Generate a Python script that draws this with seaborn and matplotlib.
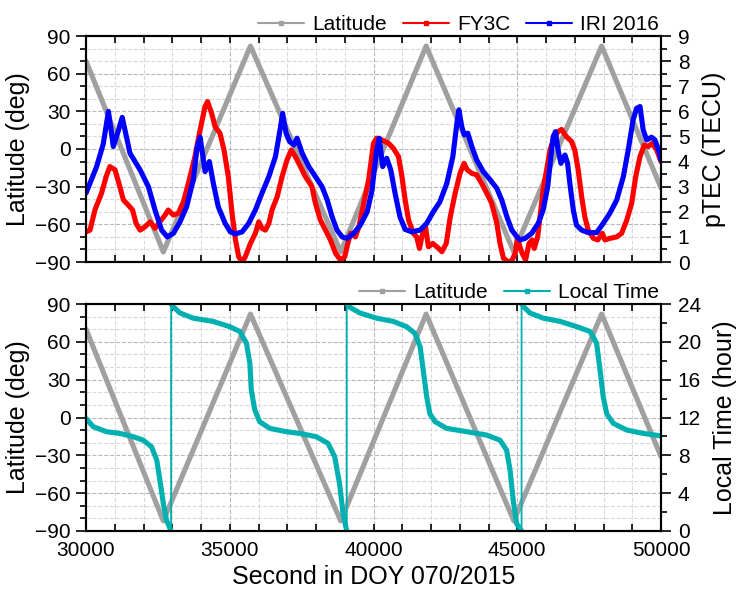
import numpy as np
import pandas as pd
import matplotlib
matplotlib.use('Agg')
import matplotlib.pyplot as plt
import seaborn as sns
from matplotlib.lines import Line2D
from matplotlib.ticker import MultipleLocator

# Latitude track (turning points of the orbit)
lat_t = [30000, 32690, 35720, 38860, 41830, 44880, 47935, 50000]
lat_v = [70, -82, 82, -82, 82, -82, 82, -31]

# FY3C plasmaspheric TEC
fy_t = [30000, 30140, 30310, 30540, 30700, 30830, 31010, 31160, 31300, 31470, 31620, 31740,
        31880, 32050, 32230, 32400, 32570, 32750, 32860, 33040, 33210, 33390, 33560, 33790,
        33970, 34140, 34230, 34370, 34490, 34660, 34800, 34950, 35080, 35200, 35310, 35430,
        35540, 35720, 35890, 36010, 36120, 36240, 36360, 36470, 36650, 36820, 36990, 37140,
        37280, 37460, 37630, 37860, 37980, 38150, 38330, 38500, 38680, 38850, 39000, 39080,
        39200, 39370, 39490, 39660, 39830, 40000, 40110, 40290, 40520, 40690, 40870, 40990,
        41100, 41220, 41390, 41500, 41600, 41680, 41800, 41910, 42060, 42200, 42380, 42530,
        42670, 42840, 43010, 43150, 43260, 43420, 43590, 43760, 43940, 44110, 44290, 44400,
        44520, 44690, 44810, 44930, 45010, 45090, 45170, 45290, 45410, 45520, 45590, 45710,
        45790, 45900, 46020, 46140, 46290, 46420, 46540, 46710, 46890, 47000, 47120, 47240,
        47350, 47470, 47650, 47800, 47960, 48050, 48220, 48460, 48630, 48810, 48980, 49120,
        49270, 49420, 49560, 49700, 49850, 50000]
fy_v = [1.2, 1.27, 2.07, 2.74, 3.4, 3.8, 3.67, 3.07, 2.47, 2.27, 2.07, 1.54,
        1.27, 1.4, 1.6, 1.34, 1.6, 1.87, 2.07, 1.87, 1.94, 2.4, 3.13, 4.2,
        5.26, 6.19, 6.39, 5.92, 5.39, 5.13, 4.46, 3.4, 1.94, 0.88, 0.21, 0.0,
        0.21, 0.74, 1.14, 1.6, 1.34, 1.27, 1.54, 2.07, 2.6, 3.4, 4.06, 4.46,
        4.2, 3.8, 3.4, 3.0, 2.34, 1.67, 1.27, 0.88, 0.35, 0.08, 0.21, 0.61,
        1.14, 1.0, 1.4, 2.34, 3.27, 4.73, 4.93, 4.86, 4.73, 4.53, 4.2, 3.4,
        2.47, 1.67, 1.14, 1.0, 0.54, 1.0, 1.47, 0.61, 0.74, 0.61, 0.41, 0.74,
        1.8, 2.74, 3.53, 3.93, 3.67, 3.53, 3.47, 3.13, 2.74, 2.34, 1.54, 0.74,
        0.15, 0.01, 0.05, 0.35, 1.0, 0.61, 0.35, 0.08, 0.74, 0.88, 0.54, 1.0,
        1.8, 2.87, 3.67, 4.46, 4.99, 5.19, 5.28, 4.99, 4.8, 4.46, 3.67, 2.6,
        1.8, 1.27, 0.94, 0.88, 1.14, 0.88, 0.94, 1.0, 1.14, 1.67, 2.34, 3.4,
        4.2, 4.66, 4.6, 4.73, 4.46, 4.0]

# IRI 2016 modelled TEC
iri_t = [30000, 30370, 30600, 30780, 30950, 31090, 31260, 31530, 31880, 32170, 32400, 32630,
         32830, 33040, 33270, 33500, 33730, 33870, 33970, 34140, 34290, 34430, 34600, 34840,
         35020, 35200, 35430, 35660, 35890, 36120, 36360, 36590, 36730, 36840, 36960, 37080,
         37230, 37340, 37520, 37750, 37980, 38210, 38390, 38560, 38730, 38910, 39080, 39310,
         39540, 39780, 39950, 40000, 40110, 40200, 40320, 40460, 40600, 40750, 40920, 41100,
         41330, 41620, 41850, 42080, 42310, 42550, 42760, 42900, 42970, 43070, 43160, 43280,
         43420, 43590, 43820, 44060, 44290, 44460, 44640, 44810, 44990, 45090, 45270, 45500,
         45730, 45900, 46060, 46170, 46250, 46330, 46420, 46520, 46660, 46750, 46830, 46950,
         47060, 47240, 47470, 47760, 47990, 48220, 48460, 48690, 48860, 49030, 49150, 49270,
         49380, 49500, 49670, 49790, 49930, 50000]
iri_v = [2.74, 3.8, 4.7, 6.0, 4.6, 5.1, 5.76, 4.33, 3.67, 3.0, 2.07, 1.27,
         1.0, 1.14, 1.6, 2.2, 3.27, 4.6, 4.97, 3.6, 4.0, 3.13, 2.2, 1.54,
         1.2, 1.12, 1.2, 1.54, 2.07, 2.74, 3.4, 4.2, 5.13, 5.92, 5.13, 4.8,
         4.66, 4.93, 4.33, 3.8, 3.4, 3.0, 2.47, 1.8, 1.27, 1.0, 0.94, 1.14,
         1.47, 2.0, 2.87, 3.4, 4.46, 4.93, 3.8, 4.13, 3.67, 2.74, 1.8, 1.3,
         1.2, 1.27, 1.54, 2.0, 2.4, 3.13, 4.2, 5.52, 6.06, 5.39, 5.06, 5.13,
         4.6, 4.06, 3.6, 3.27, 2.93, 2.47, 1.8, 1.27, 1.0, 0.88, 0.94, 1.14,
         1.54, 2.07, 3.0, 4.2, 4.99, 5.19, 4.46, 3.93, 4.26, 3.93, 3.13, 2.07,
         1.47, 1.27, 1.17, 1.17, 1.54, 1.94, 2.47, 3.4, 4.46, 5.66, 6.12, 6.19,
         5.26, 4.86, 4.97, 4.86, 4.4, 4.06]

# Local time along the track (jumps 0 -> 24 h)
lt_t = [30000, 30250, 30710, 31170, 31640, 31990, 32280, 32460, 32570, 32690, 32800, 32960,
        32960, 33020, 33270, 33730, 34420, 35000, 35350, 35580, 35700, 35750, 35870, 36040,
        36390, 36970, 37430, 38010, 38420, 38650, 38820, 38940, 39070,
        39070, 39150, 39530, 40110, 40690, 41150, 41440, 41620, 41730, 41850, 41960, 42140,
        42540, 43240, 43940, 44400, 44630, 44750, 44860, 44980, 45150,
        45150, 45210, 45440, 45910, 46490, 47070, 47530, 47760, 47880, 47990, 48110, 48340,
        48810, 49380, 49960, 50000]
lt_v = [11.9, 11.03, 10.5, 10.32, 9.97, 9.61, 8.9, 7.5, 5.37, 2.9, 1.13, 0.0,
        24.0, 23.75, 23.05, 22.5, 22.16, 21.6, 21.1, 19.86, 17.7, 14.9, 12.8, 11.56,
        10.85, 10.5, 10.32, 9.97, 9.26, 7.85, 5.0, 1.84, 0.0,
        24.0, 23.7, 23.05, 22.5, 22.16, 21.6, 20.9, 19.5, 17.0, 14.2, 12.4, 11.56,
        10.85, 10.5, 10.14, 9.6, 8.55, 6.43, 3.25, 0.78, 0.0,
        24.0, 23.75, 23.05, 22.5, 22.16, 21.6, 21.1, 19.86, 17.0, 14.2, 12.4, 11.38,
        10.67, 10.32, 10.07, 10.05]

GREY = '#a0a0a0'
RED = '#ff0000'
BLUE = '#0000ff'
CYAN = '#00b0b0'
LW = 3.7

sns.set_theme(style='ticks')
plt.rcParams['font.family'] = ['Liberation Sans', 'DejaVu Sans']
for k in ['axes.edgecolor', 'xtick.color', 'ytick.color', 'axes.labelcolor', 'text.color']:
    plt.rcParams[k] = 'black'

fig = plt.figure(figsize=(7.37, 5.91), dpi=100)
ax1 = fig.add_axes([86 / 737, 1 - 262 / 591, 575 / 737, 226 / 591])
ax3 = fig.add_axes([86 / 737, 1 - 531 / 591, 575 / 737, 227 / 591])
ax2 = ax1.twinx()
ax4 = ax3.twinx()


def style_axes(ax, axr, rmax, rmajor, rminor):
    ax.set_xlim(30000, 50000)
    ax.set_ylim(-90, 90)
    ax.xaxis.set_major_locator(MultipleLocator(5000))
    ax.xaxis.set_minor_locator(MultipleLocator(1000))
    ax.yaxis.set_major_locator(MultipleLocator(30))
    ax.yaxis.set_minor_locator(MultipleLocator(10))
    ax.grid(which='major', ls='--', color='#b8b8b8', lw=0.8)
    ax.grid(which='minor', ls='--', color='#d9d9d9', lw=0.8)
    ax.set_axisbelow(True)
    ax.tick_params(axis='x', which='both', direction='in', top=True, bottom=True,
                   length=5, width=1.2, labelsize=15, pad=7.5)
    ax.tick_params(axis='y', which='major', direction='out', length=7.5, width=1.2, labelsize=15)
    ax.tick_params(axis='y', which='minor', direction='out', length=4.5, width=1.2)
    axr.set_ylim(0, rmax)
    axr.yaxis.set_major_locator(MultipleLocator(rmajor))
    axr.yaxis.set_minor_locator(MultipleLocator(rminor))
    axr.tick_params(axis='y', which='major', direction='out', length=7.5, width=1.2,
                    labelsize=15, pad=4.5)
    axr.tick_params(axis='y', which='minor', direction='out', length=4.5, width=1.2)
    axr.grid(False)
    for a in (ax, axr):
        for s in a.spines.values():
            s.set_linewidth(1.5)
    ax.set_ylabel('Latitude (deg)', fontsize=18, labelpad=4)


# top panel
sns.lineplot(x=lat_t, y=lat_v, ax=ax1, color=GREY, lw=LW, sort=False, estimator=None)
sns.lineplot(x=fy_t, y=fy_v, ax=ax2, color=RED, lw=LW, sort=False, estimator=None)
sns.lineplot(x=iri_t, y=iri_v, ax=ax2, color=BLUE, lw=LW, sort=False, estimator=None)
style_axes(ax1, ax2, 9, 1, 0.5)
ax1.tick_params(labelbottom=False)
ax2.set_ylabel('pTEC (TECU)', fontsize=18, labelpad=9)

# bottom panel
lt = pd.DataFrame({'t': lt_t, 'lt': lt_v})
lt['seg'] = (lt['lt'].diff() > 12).cumsum()
sns.lineplot(x=lat_t, y=lat_v, ax=ax3, color=GREY, lw=LW, sort=False, estimator=None)
sns.lineplot(data=lt, x='t', y='lt', ax=ax4, color=CYAN, lw=1.3, sort=False, estimator=None)
sns.lineplot(data=lt, x='t', y='lt', units='seg', ax=ax4, color=CYAN, lw=LW,
             sort=False, estimator=None)
style_axes(ax3, ax4, 24, 4, 2)
ax4.set_ylabel('Local Time (hour)', fontsize=18, labelpad=9)
ax3.set_xlabel('Second in DOY 070/2015', fontsize=18, labelpad=3)
for a in (ax1, ax2, ax3, ax4):
    a.set_xlim(30000, 50000)
ax2.set_xlabel('')
ax4.set_xlabel('')


def legend_handle(c):
    return Line2D([], [], color=c, lw=1.5, marker='s', markersize=3.5)


leg_kw = dict(loc='lower right', frameon=False, fontsize=15, handlelength=2.2,
              handletextpad=0.4, columnspacing=0.75, borderaxespad=0.1, borderpad=0)
ax2.legend([legend_handle(GREY), legend_handle(RED), legend_handle(BLUE)],
           ['Latitude', 'FY3C', 'IRI 2016'], ncol=3, bbox_to_anchor=(1.0, 1.0), **leg_kw)
ax4.legend([legend_handle(GREY), legend_handle(CYAN)],
           ['Latitude', 'Local Time'], ncol=2, bbox_to_anchor=(1.0, 1.0), **leg_kw)

fig.savefig('out.png', dpi=100)
